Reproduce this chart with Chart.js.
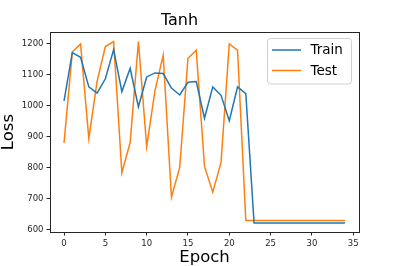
<!DOCTYPE html>
<html>
<head>
<meta charset="utf-8">
<script src="https://cdn.jsdelivr.net/npm/chart.js@4/dist/chart.umd.min.js"></script>
<style>
  body { margin: 0; background: #fff; }
  canvas { display: block; }
</style>
</head>
<body>
<canvas id="lossChart" width="399" height="266"></canvas>
<script>
// Data
const epochs = [0,1,2,3,4,5,6,7,8,9,10,11,12,13,14,15,16,17,18,19,20,21,22,23,24,25,26,27,28,29,30,31,32,33,34];
const trainLoss = [1015,1170,1155,1060,1040,1086,1180,1045,1120,996,1092,1105,1103,1056,1034,1075,1077,959,1060,1033,951,1060,1038,
                   622,622,622,622,622,622,622,622,622,622,622,622];
const testLoss  = [880,1172,1198,894,1078,1190,1206,784,881,1206,868,1047,1162,705,801,1152,1178,804,721,817,1198,1178,630,
                   630,630,630,630,630,630,630,630,630,630,630,630];
const xTicks = [0, 5, 10, 15, 20, 25, 30, 35];
const yTicks = [600, 700, 800, 900, 1000, 1100, 1200];

const FONT = "'DejaVu Sans', sans-serif";
const INK = '#262626';

// frame on all four sides + boxed legend, like matplotlib
const framePlugin = {
  id: 'frame',
  afterDatasetsDraw(chart) {
    const { ctx, chartArea: a } = chart;
    ctx.save();
    ctx.strokeStyle = INK;
    ctx.lineWidth = 1;
    ctx.strokeRect(Math.round(a.left) + 0.5, Math.round(a.top) + 0.5,
                   Math.round(a.right - a.left), Math.round(a.bottom - a.top));

    // legend box
    const bx = 267.5, by = 38.5, bw = 84, bh = 45.5, r = 3;
    ctx.beginPath();
    ctx.moveTo(bx + r, by);
    ctx.arcTo(bx + bw, by, bx + bw, by + bh, r);
    ctx.arcTo(bx + bw, by + bh, bx, by + bh, r);
    ctx.arcTo(bx, by + bh, bx, by, r);
    ctx.arcTo(bx, by, bx + bw, by, r);
    ctx.closePath();
    ctx.fillStyle = 'rgba(255,255,255,0.8)';
    ctx.fill();
    ctx.strokeStyle = '#d0d0d0';
    ctx.stroke();

    ctx.font = '13.5px ' + FONT;
    ctx.textBaseline = 'middle';
    chart.data.datasets.forEach((ds, i) => {
      const y = 50 + i * 20.5;
      ctx.strokeStyle = ds.borderColor;
      ctx.lineWidth = 1.5;
      ctx.beginPath();
      ctx.moveTo(272, y);
      ctx.lineTo(301, y);
      ctx.stroke();
      ctx.fillStyle = '#000';
      ctx.fillText(ds.label, 310.5, y + 0.5);
    });
    ctx.restore();
  }
};

new Chart(document.getElementById('lossChart').getContext('2d'), {
  type: 'line',
  data: {
    datasets: [{
      label: 'Train',
      data: epochs.map((e, i) => ({ x: e, y: trainLoss[i] })),
      borderColor: '#1f77b4',
      borderWidth: 1.5,
      pointRadius: 0,
      tension: 0,
      fill: false
    }, {
      label: 'Test',
      data: epochs.map((e, i) => ({ x: e, y: testLoss[i] })),
      borderColor: '#ff7f0e',
      borderWidth: 1.5,
      pointRadius: 0,
      tension: 0,
      fill: false
    }]
  },
  options: {
    responsive: false,
    animation: false,
    devicePixelRatio: 1,
    layout: { padding: { left: 0, right: 40, top: 0, bottom: 0 } },
    plugins: {
      legend: { display: false },
      tooltip: { enabled: false },
      title: {
        display: true,
        text: 'Tanh',
        color: '#000',
        font: { family: FONT, size: 16, weight: 'normal', lineHeight: 1.2 },
        padding: { top: 11, bottom: 2 }
      }
    },
    scales: {
      x: {
        type: 'linear',
        min: -1.7,
        max: 35.7,
        afterBuildTicks: s => { s.ticks = xTicks.map(v => ({ value: v })); },
        afterFit: s => { s.height = 34; },
        grid: { display: true, drawOnChartArea: false, drawTicks: true, tickLength: 3.5, color: INK },
        border: { display: false },
        ticks: { color: INK, font: { family: FONT, size: 8.5 }, padding: 3, maxRotation: 0,
                 callback: v => String(v) },
        title: {
          display: true,
          text: 'Epoch',
          color: '#000',
          font: { family: FONT, size: 16.5, lineHeight: 1 },
          padding: 0
        }
      },
      y: {
        min: 593,
        max: 1236,
        afterBuildTicks: s => { s.ticks = yTicks.map(v => ({ value: v })); },
        afterFit: s => { s.width = 50; },
        grid: { display: true, drawOnChartArea: false, drawTicks: true, tickLength: 3.5, color: INK },
        border: { display: false },
        ticks: { color: INK, font: { family: FONT, size: 8.5 }, padding: 3,
                 callback: v => String(v) },
        title: {
          display: true,
          text: 'Loss',
          color: '#000',
          font: { family: FONT, size: 16.5, lineHeight: 1 },
          padding: 0
        }
      }
    }
  },
  plugins: [framePlugin]
});
</script>
</body>
</html>
